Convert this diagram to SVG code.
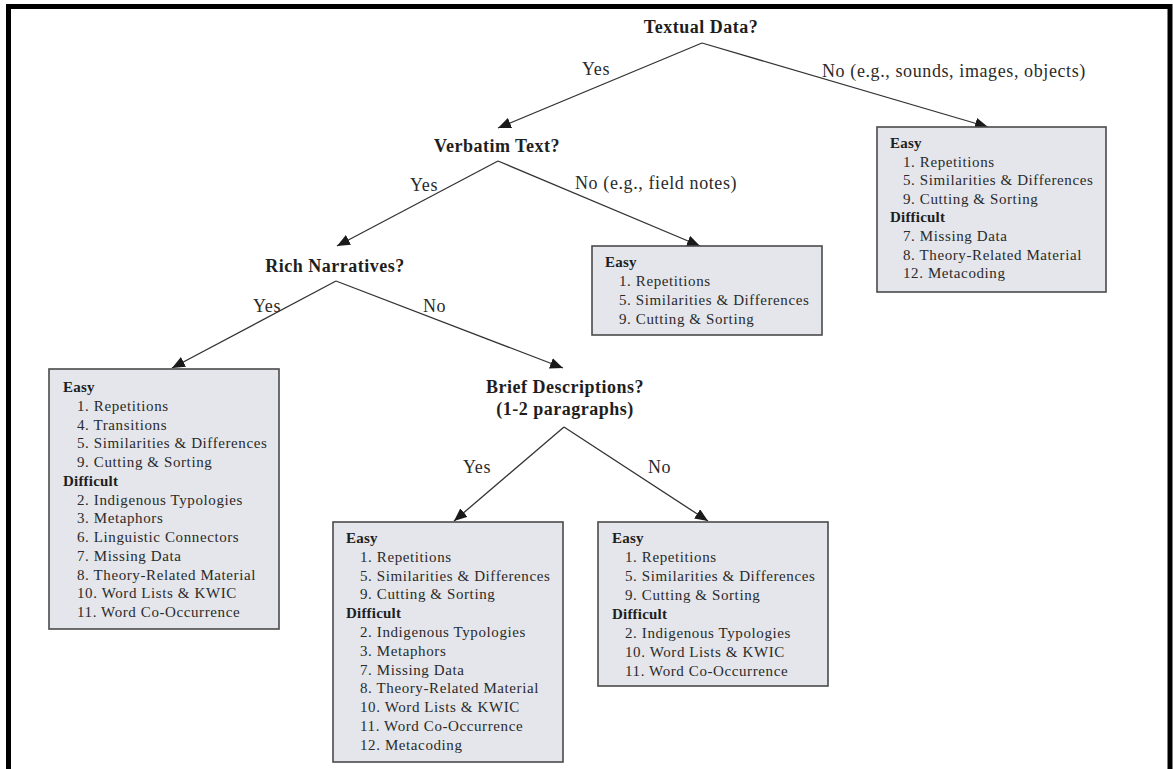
<svg xmlns="http://www.w3.org/2000/svg" width="1173" height="769" viewBox="0 0 1173 769">
  <defs>
    <marker id="arrow" markerUnits="userSpaceOnUse" markerWidth="13" markerHeight="11" refX="13" refY="5.5" orient="auto">
      <path d="M0,0 L13,5.5 L0,11 z" fill="#1a1a1a"/>
    </marker>
    <style>
      .frame { fill: none; stroke: #000; stroke-width: 5; }
      .q { font-family: "Liberation Serif", "Times New Roman", serif; font-weight: bold; font-size: 18px; letter-spacing: 0.5px; fill: #1e1e1e; text-anchor: middle; }
      .lbl { font-family: "Liberation Serif", "Times New Roman", serif; font-size: 18px; letter-spacing: 0.6px; fill: #2a2a2a; }
      .edge { stroke: #333; stroke-width: 1.3; fill: none; marker-end: url(#arrow); }
      .box { fill: #e4e6eb; stroke: #4a4a4a; stroke-width: 1.6; }
      .t { font-family: "Liberation Serif", "Times New Roman", serif; font-size: 15px; letter-spacing: 0.6px; fill: #2a2a2a; }
      .h { font-weight: bold; letter-spacing: 0.2px; fill: #1e1e1e; }
    </style>
  </defs>

  <rect width="1173" height="769" fill="#fff"/>
  <path class="frame" d="M8.5,769 V6.5 H1170 V769"/>

  <!-- branches and their labels -->
  <g id="connectors">
    <line class="edge" x1="702" y1="43" x2="498" y2="128"/>
    <line class="edge" x1="702" y1="43" x2="988" y2="127"/>
    <line class="edge" x1="498" y1="161" x2="337" y2="246"/>
    <line class="edge" x1="498" y1="161" x2="700" y2="246"/>
    <line class="edge" x1="336" y1="281" x2="172" y2="368"/>
    <line class="edge" x1="336" y1="281" x2="563" y2="368"/>
    <line class="edge" x1="564" y1="427" x2="454" y2="521"/>
    <line class="edge" x1="564" y1="427" x2="708" y2="521"/>

    <text class="lbl" x="582" y="75">Yes</text>
    <text class="lbl" x="822" y="77">No (e.g., sounds, images, objects)</text>
    <text class="lbl" x="410" y="191">Yes</text>
    <text class="lbl" x="575" y="189">No (e.g., field notes)</text>
    <text class="lbl" x="253" y="312">Yes</text>
    <text class="lbl" x="423" y="312">No</text>
    <text class="lbl" x="463" y="473">Yes</text>
    <text class="lbl" x="648" y="473">No</text>
  </g>

  <!-- decision questions -->
  <g id="q-textual">
    <text class="q" x="701" y="33">Textual Data?</text>
  </g>
  <g id="q-verbatim">
    <text class="q" x="497" y="152">Verbatim Text?</text>
  </g>
  <g id="q-rich">
    <text class="q" x="335" y="272">Rich Narratives?</text>
  </g>
  <g id="q-brief">
    <text class="q" x="565" y="393">Brief Descriptions?</text>
    <text class="q" x="565" y="415">(1-2 paragraphs)</text>
  </g>

  <!-- outcome boxes -->
  <g id="box-nontext">
    <rect class="box" x="877" y="127" width="229" height="165"/>
    <text class="t h" x="890" y="148">Easy</text>
    <text class="t" x="903" y="166.6">1. Repetitions</text>
    <text class="t" x="903" y="185.2">5. Similarities &amp; Differences</text>
    <text class="t" x="903" y="203.8">9. Cutting &amp; Sorting</text>
    <text class="t h" x="890" y="222.4">Difficult</text>
    <text class="t" x="903" y="241">7. Missing Data</text>
    <text class="t" x="903" y="259.6">8. Theory-Related Material</text>
    <text class="t" x="903" y="278.2">12. Metacoding</text>
  </g>

  <g id="box-fieldnotes">
    <rect class="box" x="592" y="246" width="230" height="89"/>
    <text class="t h" x="605" y="267">Easy</text>
    <text class="t" x="619" y="286">1. Repetitions</text>
    <text class="t" x="619" y="305">5. Similarities &amp; Differences</text>
    <text class="t" x="619" y="324">9. Cutting &amp; Sorting</text>
  </g>

  <g id="box-rich">
    <rect class="box" x="49" y="369" width="230" height="260"/>
    <text class="t h" x="63" y="392">Easy</text>
    <text class="t" x="77" y="410.75">1. Repetitions</text>
    <text class="t" x="77" y="429.5">4. Transitions</text>
    <text class="t" x="77" y="448.25">5. Similarities &amp; Differences</text>
    <text class="t" x="77" y="467">9. Cutting &amp; Sorting</text>
    <text class="t h" x="63" y="485.75">Difficult</text>
    <text class="t" x="77" y="504.5">2. Indigenous Typologies</text>
    <text class="t" x="77" y="523.25">3. Metaphors</text>
    <text class="t" x="77" y="542">6. Linguistic Connectors</text>
    <text class="t" x="77" y="560.75">7. Missing Data</text>
    <text class="t" x="77" y="579.5">8. Theory-Related Material</text>
    <text class="t" x="77" y="598.25">10. Word Lists &amp; KWIC</text>
    <text class="t" x="77" y="617">11. Word Co-Occurrence</text>
  </g>

  <g id="box-brief">
    <rect class="box" x="333" y="522" width="230" height="240"/>
    <text class="t h" x="346" y="543">Easy</text>
    <text class="t" x="360" y="561.8">1. Repetitions</text>
    <text class="t" x="360" y="580.6">5. Similarities &amp; Differences</text>
    <text class="t" x="360" y="599.4">9. Cutting &amp; Sorting</text>
    <text class="t h" x="346" y="618.2">Difficult</text>
    <text class="t" x="360" y="637">2. Indigenous Typologies</text>
    <text class="t" x="360" y="655.8">3. Metaphors</text>
    <text class="t" x="360" y="674.6">7. Missing Data</text>
    <text class="t" x="360" y="693.4">8. Theory-Related Material</text>
    <text class="t" x="360" y="712.2">10. Word Lists &amp; KWIC</text>
    <text class="t" x="360" y="731">11. Word Co-Occurrence</text>
    <text class="t" x="360" y="749.8">12. Metacoding</text>
  </g>

  <g id="box-other">
    <rect class="box" x="598" y="522" width="230" height="164"/>
    <text class="t h" x="612" y="543">Easy</text>
    <text class="t" x="625" y="562">1. Repetitions</text>
    <text class="t" x="625" y="581">5. Similarities &amp; Differences</text>
    <text class="t" x="625" y="600">9. Cutting &amp; Sorting</text>
    <text class="t h" x="612" y="619">Difficult</text>
    <text class="t" x="625" y="638">2. Indigenous Typologies</text>
    <text class="t" x="625" y="657">10. Word Lists &amp; KWIC</text>
    <text class="t" x="625" y="676">11. Word Co-Occurrence</text>
  </g>
</svg>
